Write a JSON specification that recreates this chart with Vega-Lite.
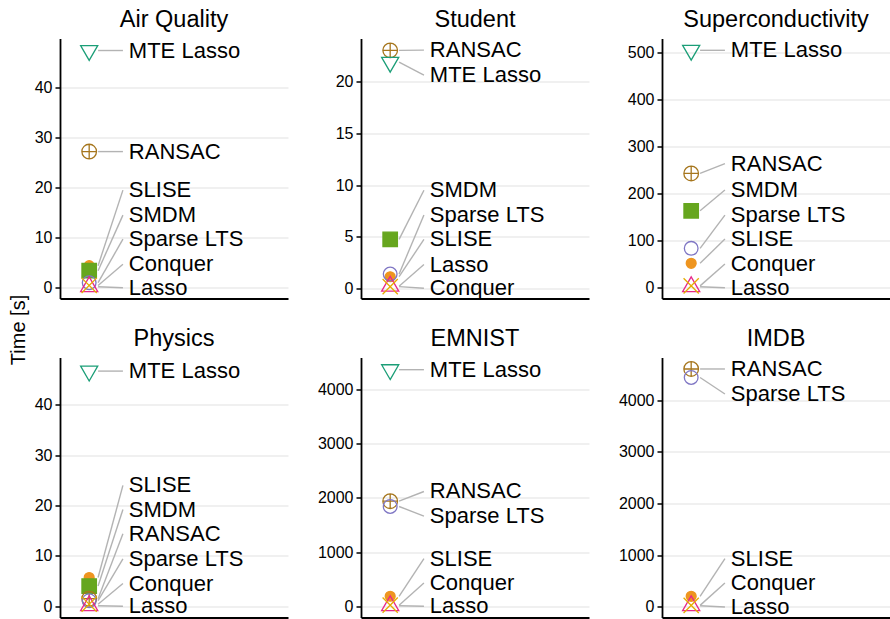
{
  "$schema": "https://vega.github.io/schema/vega-lite/v6.json",
  "padding": {"left": 8, "top": 7.5, "right": 0, "bottom": 0},
  "data": {"values": [
    {"d":"Air Quality","m":"SLISE","t":4.4,"ly":19.5},
    {"d":"Air Quality","m":"SMDM","t":3.4,"ly":14.5},
    {"d":"Air Quality","m":"RANSAC","t":27.2,"ly":27.2},
    {"d":"Air Quality","m":"Sparse LTS","t":1.0,"ly":9.7},
    {"d":"Air Quality","m":"Lasso","t":0.2,"ly":0},
    {"d":"Air Quality","m":"Conquer","t":0.45,"ly":4.7},
    {"d":"Air Quality","m":"MTE Lasso","t":47.4,"ly":47.4},

    {"d":"Student","m":"SLISE","t":1.12,"ly":4.74},
    {"d":"Student","m":"SMDM","t":4.74,"ly":9.5},
    {"d":"Student","m":"RANSAC","t":23.05,"ly":23.07},
    {"d":"Student","m":"Sparse LTS","t":1.38,"ly":7.1},
    {"d":"Student","m":"Lasso","t":0.2,"ly":2.3},
    {"d":"Student","m":"Conquer","t":0.16,"ly":0},
    {"d":"Student","m":"MTE Lasso","t":21.9,"ly":20.65},

    {"d":"Superconductivity","m":"SLISE","t":51,"ly":102.5},
    {"d":"Superconductivity","m":"SMDM","t":162.6,"ly":206.6},
    {"d":"Superconductivity","m":"RANSAC","t":242,"ly":263},
    {"d":"Superconductivity","m":"Sparse LTS","t":82.8,"ly":153.5},
    {"d":"Superconductivity","m":"Lasso","t":1.3,"ly":-1},
    {"d":"Superconductivity","m":"Conquer","t":3,"ly":49.5},
    {"d":"Superconductivity","m":"MTE Lasso","t":503.6,"ly":503.6},

    {"d":"Physics","m":"SLISE","t":5.7,"ly":24},
    {"d":"Physics","m":"SMDM","t":4.0,"ly":19.2},
    {"d":"Physics","m":"RANSAC","t":1.5,"ly":14.4},
    {"d":"Physics","m":"Sparse LTS","t":1.1,"ly":9.4},
    {"d":"Physics","m":"Lasso","t":0.1,"ly":0},
    {"d":"Physics","m":"Conquer","t":0.4,"ly":4.5},
    {"d":"Physics","m":"MTE Lasso","t":46.7,"ly":46.7},

    {"d":"EMNIST","m":"SLISE","t":184,"ly":879},
    {"d":"EMNIST","m":"RANSAC","t":1941,"ly":2120},
    {"d":"EMNIST","m":"Sparse LTS","t":1843,"ly":1665},
    {"d":"EMNIST","m":"Lasso","t":10,"ly":0},
    {"d":"EMNIST","m":"Conquer","t":20,"ly":430},
    {"d":"EMNIST","m":"MTE Lasso","t":4370,"ly":4370},

    {"d":"IMDB","m":"SLISE","t":206,"ly":933},
    {"d":"IMDB","m":"RANSAC","t":4600,"ly":4600},
    {"d":"IMDB","m":"Sparse LTS","t":4436,"ly":4116},
    {"d":"IMDB","m":"Lasso","t":24,"ly":0},
    {"d":"IMDB","m":"Conquer","t":30,"ly":463}
  ]},
  "columns": 3,
  "spacing": {"row": 59, "column": 73},
  "bounds": "flush",
  "concat": [
    {
      "title": "Air Quality", "width": 228, "height": 260,
      "transform": [{"filter": "datum.d === 'Air Quality'"}],
      "layer": [
        {"mark": {"type": "rule", "color": "#b3b3b3", "strokeWidth": 1.4},
         "encoding": {
           "x": {"datum": 0.167, "type": "quantitative", "scale": {"domain": [0, 1]}, "axis": {"title": null, "ticks": false, "labels": false, "grid": false}},
           "x2": {"datum": 0.276},
           "y": {"field": "t", "type": "quantitative", "scale": {"domain": [-2.16, 49.8], "nice": false, "zero": false}, "axis": {"title": "Time [s]", "titleX": -36, "titleY": 291, "titleBaseline": "alphabetic", "titleAlign": "center", "titleAngle": 270}},
           "y2": {"field": "ly"}}},
        {"mark": {"type": "point", "opacity": 1, "strokeWidth": 1.3, "size": 361},
         "encoding": {
           "x": {"datum": 0.128, "type": "quantitative", "scale": {"domain": [0, 1]}, "axis": {"title": null, "ticks": false, "labels": false, "grid": false}},
           "y": {"field": "t", "type": "quantitative", "scale": {"domain": [-2.16, 49.8], "nice": false, "zero": false}, "axis": {"title": "Time [s]", "titleX": -36, "titleY": 291, "titleBaseline": "alphabetic", "titleAlign": "center", "titleAngle": 270}},
           "shape": {"field": "m", "type": "nominal", "legend": null, "scale": {"domain": ["SLISE","SMDM","RANSAC","Sparse LTS","Lasso","Conquer","MTE Lasso"], "range": ["M-0.52,0A0.52,0.52 0 1,0 0.52,0A0.52,0.52 0 1,0 -0.52,0Z","M-0.76,-0.76H0.76V0.76H-0.76Z","M-0.77,0A0.77,0.77 0 1,0 0.77,0A0.77,0.77 0 1,0 -0.77,0ZM-0.77,0H0.77M0,-0.77V0.77","M-0.72,0A0.72,0.72 0 1,0 0.72,0A0.72,0.72 0 1,0 -0.72,0Z","M0,-1.04L0.9,0.52L-0.9,0.52Z","M-0.8,-0.8L0.8,0.8M-0.8,0.8L0.8,-0.8","M0,1.04L0.9,-0.52L-0.9,-0.52Z"]}},
           "fill": {"field": "m", "type": "nominal", "legend": null, "scale": {"domain": ["SLISE","SMDM","RANSAC","Sparse LTS","Lasso","Conquer","MTE Lasso"], "range": ["#ee9520","#66a61e","transparent","transparent","transparent","transparent","transparent"]}},
           "stroke": {"field": "m", "type": "nominal", "legend": null, "scale": {"domain": ["SLISE","SMDM","RANSAC","Sparse LTS","Lasso","Conquer","MTE Lasso"], "range": ["#ee9520","#66a61e","#a6761d","#7f76c4","#e7298a","#e6ab02","#1b9e77"]}}}},
        {"mark": {"type": "text", "align": "left", "baseline": "middle", "fontSize": 22, "font": "Liberation Sans", "color": "black"},
         "encoding": {
           "x": {"datum": 0.302, "type": "quantitative", "scale": {"domain": [0, 1]}, "axis": {"title": null, "ticks": false, "labels": false, "grid": false}},
           "y": {"field": "ly", "type": "quantitative", "scale": {"domain": [-2.16, 49.8], "nice": false, "zero": false}, "axis": {"title": "Time [s]", "titleX": -36, "titleY": 291, "titleBaseline": "alphabetic", "titleAlign": "center", "titleAngle": 270}},
           "text": {"field": "m"}}}
      ]
    },
    {
      "title": "Student", "width": 228, "height": 260,
      "transform": [{"filter": "datum.d === 'Student'"}],
      "layer": [
        {"mark": {"type": "rule", "color": "#b3b3b3", "strokeWidth": 1.4},
         "encoding": {
           "x": {"datum": 0.167, "type": "quantitative", "scale": {"domain": [0, 1]}, "axis": {"title": null, "ticks": false, "labels": false, "grid": false}},
           "x2": {"datum": 0.276},
           "y": {"field": "t", "type": "quantitative", "scale": {"domain": [-0.99, 24.2], "nice": false, "zero": false}, "axis": {"title": null}},
           "y2": {"field": "ly"}}},
        {"mark": {"type": "point", "opacity": 1, "strokeWidth": 1.3, "size": 361},
         "encoding": {
           "x": {"datum": 0.128, "type": "quantitative", "scale": {"domain": [0, 1]}, "axis": {"title": null, "ticks": false, "labels": false, "grid": false}},
           "y": {"field": "t", "type": "quantitative", "scale": {"domain": [-0.99, 24.2], "nice": false, "zero": false}, "axis": {"title": null}},
           "shape": {"field": "m", "type": "nominal", "legend": null},
           "fill": {"field": "m", "type": "nominal", "legend": null},
           "stroke": {"field": "m", "type": "nominal", "legend": null}}},
        {"mark": {"type": "text", "align": "left", "baseline": "middle", "fontSize": 22, "font": "Liberation Sans", "color": "black"},
         "encoding": {
           "x": {"datum": 0.302, "type": "quantitative", "scale": {"domain": [0, 1]}, "axis": {"title": null, "ticks": false, "labels": false, "grid": false}},
           "y": {"field": "ly", "type": "quantitative", "scale": {"domain": [-0.99, 24.2], "nice": false, "zero": false}, "axis": {"title": null}},
           "text": {"field": "m"}}}
      ]
    },
    {
      "title": "Superconductivity", "width": 228, "height": 260,
      "transform": [{"filter": "datum.d === 'Superconductivity'"}],
      "layer": [
        {"mark": {"type": "rule", "color": "#b3b3b3", "strokeWidth": 1.4},
         "encoding": {
           "x": {"datum": 0.167, "type": "quantitative", "scale": {"domain": [0, 1]}, "axis": {"title": null, "ticks": false, "labels": false, "grid": false}},
           "x2": {"datum": 0.276},
           "y": {"field": "t", "type": "quantitative", "scale": {"domain": [-23.8, 528.7], "nice": false, "zero": false}, "axis": {"title": null}},
           "y2": {"field": "ly"}}},
        {"mark": {"type": "point", "opacity": 1, "strokeWidth": 1.3, "size": 361},
         "encoding": {
           "x": {"datum": 0.128, "type": "quantitative", "scale": {"domain": [0, 1]}, "axis": {"title": null, "ticks": false, "labels": false, "grid": false}},
           "y": {"field": "t", "type": "quantitative", "scale": {"domain": [-23.8, 528.7], "nice": false, "zero": false}, "axis": {"title": null}},
           "shape": {"field": "m", "type": "nominal", "legend": null},
           "fill": {"field": "m", "type": "nominal", "legend": null},
           "stroke": {"field": "m", "type": "nominal", "legend": null}}},
        {"mark": {"type": "text", "align": "left", "baseline": "middle", "fontSize": 22, "font": "Liberation Sans", "color": "black"},
         "encoding": {
           "x": {"datum": 0.302, "type": "quantitative", "scale": {"domain": [0, 1]}, "axis": {"title": null, "ticks": false, "labels": false, "grid": false}},
           "y": {"field": "ly", "type": "quantitative", "scale": {"domain": [-23.8, 528.7], "nice": false, "zero": false}, "axis": {"title": null}},
           "text": {"field": "m"}}}
      ]
    },
    {
      "title": "Physics", "width": 228, "height": 260,
      "transform": [{"filter": "datum.d === 'Physics'"}],
      "layer": [
        {"mark": {"type": "rule", "color": "#b3b3b3", "strokeWidth": 1.4},
         "encoding": {
           "x": {"datum": 0.167, "type": "quantitative", "scale": {"domain": [0, 1]}, "axis": {"title": null, "ticks": false, "labels": false, "grid": false}},
           "x2": {"datum": 0.276},
           "y": {"field": "t", "type": "quantitative", "scale": {"domain": [-2.24, 49.4], "nice": false, "zero": false}, "axis": {"title": null}},
           "y2": {"field": "ly"}}},
        {"mark": {"type": "point", "opacity": 1, "strokeWidth": 1.3, "size": 361},
         "encoding": {
           "x": {"datum": 0.128, "type": "quantitative", "scale": {"domain": [0, 1]}, "axis": {"title": null, "ticks": false, "labels": false, "grid": false}},
           "y": {"field": "t", "type": "quantitative", "scale": {"domain": [-2.24, 49.4], "nice": false, "zero": false}, "axis": {"title": null}},
           "shape": {"field": "m", "type": "nominal", "legend": null},
           "fill": {"field": "m", "type": "nominal", "legend": null},
           "stroke": {"field": "m", "type": "nominal", "legend": null}}},
        {"mark": {"type": "text", "align": "left", "baseline": "middle", "fontSize": 22, "font": "Liberation Sans", "color": "black"},
         "encoding": {
           "x": {"datum": 0.302, "type": "quantitative", "scale": {"domain": [0, 1]}, "axis": {"title": null, "ticks": false, "labels": false, "grid": false}},
           "y": {"field": "ly", "type": "quantitative", "scale": {"domain": [-2.24, 49.4], "nice": false, "zero": false}, "axis": {"title": null}},
           "text": {"field": "m"}}}
      ]
    },
    {
      "title": "EMNIST", "width": 228, "height": 260,
      "transform": [{"filter": "datum.d === 'EMNIST'"}],
      "layer": [
        {"mark": {"type": "rule", "color": "#b3b3b3", "strokeWidth": 1.4},
         "encoding": {
           "x": {"datum": 0.167, "type": "quantitative", "scale": {"domain": [0, 1]}, "axis": {"title": null, "ticks": false, "labels": false, "grid": false}},
           "x2": {"datum": 0.276},
           "y": {"field": "t", "type": "quantitative", "scale": {"domain": [-208, 4595], "nice": false, "zero": false}, "axis": {"title": null}},
           "y2": {"field": "ly"}}},
        {"mark": {"type": "point", "opacity": 1, "strokeWidth": 1.3, "size": 361},
         "encoding": {
           "x": {"datum": 0.128, "type": "quantitative", "scale": {"domain": [0, 1]}, "axis": {"title": null, "ticks": false, "labels": false, "grid": false}},
           "y": {"field": "t", "type": "quantitative", "scale": {"domain": [-208, 4595], "nice": false, "zero": false}, "axis": {"title": null}},
           "shape": {"field": "m", "type": "nominal", "legend": null},
           "fill": {"field": "m", "type": "nominal", "legend": null},
           "stroke": {"field": "m", "type": "nominal", "legend": null}}},
        {"mark": {"type": "text", "align": "left", "baseline": "middle", "fontSize": 22, "font": "Liberation Sans", "color": "black"},
         "encoding": {
           "x": {"datum": 0.302, "type": "quantitative", "scale": {"domain": [0, 1]}, "axis": {"title": null, "ticks": false, "labels": false, "grid": false}},
           "y": {"field": "ly", "type": "quantitative", "scale": {"domain": [-208, 4595], "nice": false, "zero": false}, "axis": {"title": null}},
           "text": {"field": "m"}}}
      ]
    },
    {
      "title": "IMDB", "width": 228, "height": 260,
      "transform": [{"filter": "datum.d === 'IMDB'"}],
      "layer": [
        {"mark": {"type": "rule", "color": "#b3b3b3", "strokeWidth": 1.4},
         "encoding": {
           "x": {"datum": 0.167, "type": "quantitative", "scale": {"domain": [0, 1]}, "axis": {"title": null, "ticks": false, "labels": false, "grid": false}},
           "x2": {"datum": 0.276},
           "y": {"field": "t", "type": "quantitative", "scale": {"domain": [-204, 4822], "nice": false, "zero": false}, "axis": {"title": null}},
           "y2": {"field": "ly"}}},
        {"mark": {"type": "point", "opacity": 1, "strokeWidth": 1.3, "size": 361},
         "encoding": {
           "x": {"datum": 0.128, "type": "quantitative", "scale": {"domain": [0, 1]}, "axis": {"title": null, "ticks": false, "labels": false, "grid": false}},
           "y": {"field": "t", "type": "quantitative", "scale": {"domain": [-204, 4822], "nice": false, "zero": false}, "axis": {"title": null}},
           "shape": {"field": "m", "type": "nominal", "legend": null},
           "fill": {"field": "m", "type": "nominal", "legend": null},
           "stroke": {"field": "m", "type": "nominal", "legend": null}}},
        {"mark": {"type": "text", "align": "left", "baseline": "middle", "fontSize": 22, "font": "Liberation Sans", "color": "black"},
         "encoding": {
           "x": {"datum": 0.302, "type": "quantitative", "scale": {"domain": [0, 1]}, "axis": {"title": null, "ticks": false, "labels": false, "grid": false}},
           "y": {"field": "ly", "type": "quantitative", "scale": {"domain": [-204, 4822], "nice": false, "zero": false}, "axis": {"title": null}},
           "text": {"field": "m"}}}
      ]
    }
  ],
  "config": {
    "view": {"stroke": null},
    "font": "Liberation Sans",
    "axis": {"domainColor": "black", "domainWidth": 1.8, "tickColor": "black", "tickWidth": 1.5, "tickSize": 5, "labelColor": "black", "labelFontSize": 16, "labelFont": "Liberation Sans", "labelPadding": 3, "gridColor": "#ebebeb", "gridWidth": 1.5, "titleFont": "Liberation Sans", "titleFontSize": 20, "titleFontWeight": "normal", "titleColor": "black"},
    "axisY": {"tickCount": 5, "grid": true, "format": "d"},
    "title": {"fontSize": 23.5, "fontWeight": "normal", "font": "Liberation Sans", "color": "black", "offset": 7, "anchor": "middle", "frame": "group"}
  }
}
